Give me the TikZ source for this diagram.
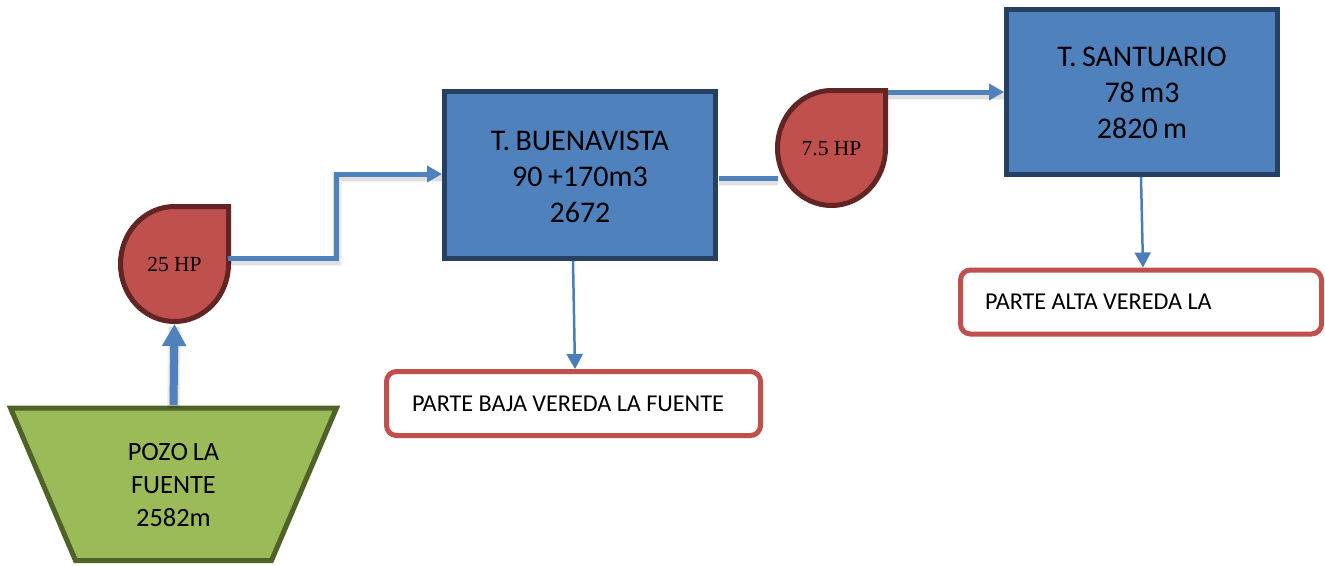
\documentclass[tikz,border=0pt]{standalone}
\usepackage{fontspec}
\setmainfont[WordSpace=0.8]{Carlito}
\newfontfamily\pumpfont{Liberation Serif}
\usetikzlibrary{arrows.meta}
\definecolor{tankblue}{HTML}{4F81BD}
\definecolor{tankedge}{HTML}{264061}
\definecolor{pumpred}{HTML}{C0504D}
\definecolor{pumpedge}{HTML}{632523}
\definecolor{wellgreen}{HTML}{9BBB59}
\definecolor{welledge}{HTML}{4F6228}
\definecolor{pipeblue}{HTML}{4F81BD}
\definecolor{thinblue}{HTML}{4A7EBB}
\newcommand{\tightwords}{\spaceskip=.22em\relax}
\tikzset{
  softshadow/.style={
    preaction={draw=black,opacity=.05,line width=#1+5pt,-,transform canvas={shift={(0pt,-3pt)}}},
    preaction={draw=black,opacity=.08,line width=#1+2pt,-,transform canvas={shift={(0pt,-3pt)}}}},
  tankbox/.style={draw=tankedge,fill=tankblue,line width=5pt,minimum width=271pt,minimum height=167pt,inner sep=0pt,align=center,font=\fontsize{30}{36}\selectfont},
  servicebox/.style={draw=pumpred,fill=white,line width=5pt,rounded corners=10pt,minimum height=64pt,align=left,font=\fontsize{24.2}{26}\selectfont},
  welltext/.style={inner sep=0pt,minimum width=326pt,minimum height=158pt,align=center,font=\fontsize{26.4}{33}\selectfont},
  wellshape/.style={draw=welledge,fill=wellgreen,line width=5pt,line join=miter},
  pumpshape/.style={draw=pumpedge,fill=pumpred,line width=5pt,line join=miter},
  pumpnode/.style={inner sep=0pt,outer sep=0pt,minimum width=113pt,minimum height=120pt,font=\pumpfont\fontsize{21.5}{24}\selectfont},
  pipe/.style={draw=pipeblue,line width=#1,line join=miter},
  bigtip/.style={-{Triangle[length=15pt,width=16pt]}},
  thinpipe/.style={draw=thinblue,line width=2.5pt,-{Triangle[length=15pt,width=16pt]}}
}
\begin{document}
\begin{tikzpicture}[x=1pt,y=-1pt]
\useasboundingbox (0,0) rectangle (1325,565);
\fill[white] (0,0) rectangle (1325,565);

% well body
\draw[wellshape] (10.5,408) -- (336.5,408) -- (271.5,560.5) -- (75.5,560.5) -- cycle;

% nodes that carry the connectors
\node[tankbox] (buena) at (580,175) {\rule{0pt}{24pt}T. BUENAVISTA\\90 +170m3\\2672};
\node[tankbox,minimum height=165pt] (santu) at (1142,92) {\rule{0pt}{21pt}T. SANTUARIO\\78 m3\\2820 m};
\node[servicebox,minimum width=374pt,inner xsep=25.5pt,text width=323pt] (baja) at (573.5,403.5) {\tightwords\mbox{PARTE BAJA VEREDA LA FUENTE}};
\node[servicebox,minimum width=361pt,inner xsep=24.5pt,text width=312pt] (alta) at (1141,302) {\tightwords\mbox{PARTE ALTA VEREDA LA}};
\node[welltext] (pozo) at (173.5,485) {POZO LA\\FUENTE\\2582m};
\node[pumpnode] (p1) at (174.5,264) {};
\node[pumpnode] (p2) at (831.5,147.5) {};

% connectors under the pumps
\draw[pipe=8pt,softshadow=8pt,-{Triangle[length=22pt,width=23pt]}] ([yshift=1pt]pozo.north) -- (p1.south);
\draw[pipe=5pt,softshadow=5pt] ([shift={(1,3)}]buena.east) -- ([shift={(3,30.5)}]p2.west);

% pump bodies
\draw[pumpshape] (228.5,206.5) -- (174.5,206.5) arc[start angle=90,delta angle=180,x radius=54,y radius=-57.5] arc[start angle=270,delta angle=90,x radius=54,y radius=-57.5] -- cycle;
\draw[pumpshape] (885.5,90.5) -- (831.5,90.5) arc[start angle=90,delta angle=180,x radius=54,y radius=-57.5] arc[start angle=270,delta angle=90,x radius=54,y radius=-57.5] -- cycle;
\node[pumpnode] at (p1.center) {25 HP};
\node[pumpnode] at (831.5,149) {7.5 HP};

% connectors over the pumps
\draw[pipe=5pt,softshadow=5pt,bigtip] ([shift={(-3,-6)}]p1.east) -| (336.5,174) -- ([shift={(0,-1)}]buena.west);
\draw[pipe=5pt,softshadow=5pt,bigtip] ([shift={(0,-55.5)}]p2.east) -- (santu.west);
\draw[thinpipe] ([xshift=-7pt]buena.south) -- ([xshift=1.5pt]baja.north);
\draw[thinpipe] ([xshift=-1pt]santu.south) -- ([xshift=2pt]alta.north);
\end{tikzpicture}
\end{document}
